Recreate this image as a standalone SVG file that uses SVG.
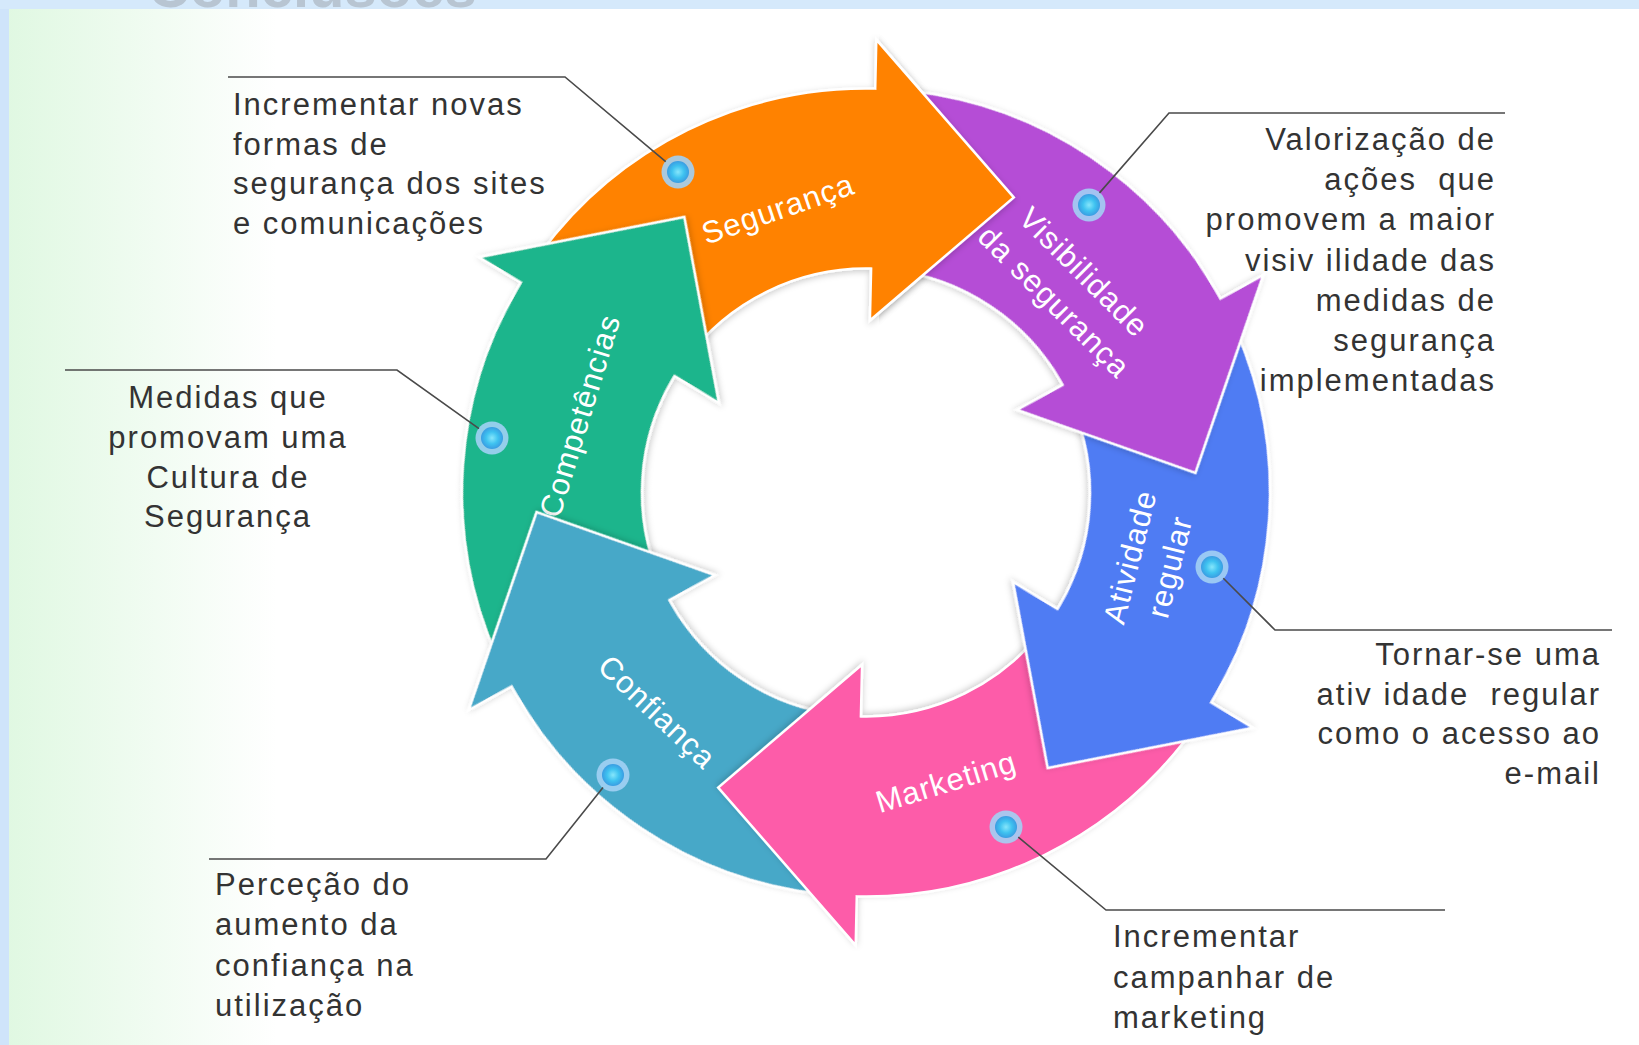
<svg xmlns="http://www.w3.org/2000/svg" width="1639" height="1045" viewBox="0 0 1639 1045">
<defs>
  <linearGradient id="leftFade" x1="0" y1="0" x2="1" y2="0">
    <stop offset="0" stop-color="#e0f8e2"/>
    <stop offset="1" stop-color="#ffffff"/>
  </linearGradient>
  <radialGradient id="dotCore" cx="0.5" cy="0.5" r="0.5">
    <stop offset="0" stop-color="#86e6fb"/>
    <stop offset="0.55" stop-color="#3ec2f0"/>
    <stop offset="1" stop-color="#3a9de2"/>
  </radialGradient>
  <filter id="shadow" x="-15%" y="-15%" width="130%" height="130%">
    <feDropShadow dx="0" dy="2" stdDeviation="3" flood-color="#000000" flood-opacity="0.2"/>
  </filter>
  <path id="arrowShape" d="M540.4,253.3 A404,404 0 0,1 875.2,88.6 L876.3,39.6 L1013.8,197.4 L869.9,320.5 L871.1,268.6 A224,224 0 0,0 685.5,359.9 Z"/>
  <clipPath id="clipFront"><rect x="879" y="0" width="300" height="420"/></clipPath>
  <clipPath id="clipBand"><rect x="0" y="0" width="1639" height="9"/></clipPath>
</defs>
<style>
  .arrow { stroke:#ffffff; stroke-width:2.5; stroke-linejoin:miter; filter:url(#shadow); }
  .lbl { font-family:"Liberation Sans", Arial, sans-serif; font-size:31px; fill:#ffffff; text-anchor:middle; dominant-baseline:central; letter-spacing:1px; }
  .callout { font-family:"Liberation Sans", Arial, sans-serif; font-size:31px; fill:#333333; letter-spacing:2px; }
  .end { text-anchor:end; }
  .mid { text-anchor:middle; }
  .leader { fill:none; stroke:#4a4a4a; stroke-width:1.6; }
  .dot-ring { fill:#a2d0f4; opacity:0.9; }
  .dot-core { fill:url(#dotCore); }
</style>

<!-- background -->
<g id="background">
  <rect x="0" y="0" width="1639" height="1045" fill="#ffffff"/>
  <rect x="7" y="9" width="270" height="1036" fill="url(#leftFade)"/>
  <rect x="0" y="0" width="9" height="1045" fill="#cfe4fa"/>
  <rect x="0" y="0" width="1639" height="9" fill="#d5e9fb"/>
  <text x="148" y="7" clip-path="url(#clipBand)" font-family="Liberation Sans, Arial, sans-serif" font-size="58" font-weight="bold" fill="#b8c5d2">Conclusões</text>
</g>

<!-- Segurança (orange) -->
<g id="node-seguranca">
  <use href="#arrowShape" class="arrow" fill="#ff8204"/>
  <text class="lbl" transform="translate(778,209) rotate(-19)">Segurança</text>
  <circle class="dot-ring" cx="678" cy="172" r="16.5"/>
  <circle class="dot-core" cx="678" cy="172" r="11"/>
</g>

<!-- Competências (green) -->
<g id="node-competencias">
  <use href="#arrowShape" class="arrow" fill="#1db58c" transform="rotate(300 866 492.5)"/>
  <text class="lbl" transform="translate(580,416) rotate(-73)">Competências</text>
  <circle class="dot-ring" cx="492" cy="438" r="16.5"/>
  <circle class="dot-core" cx="492" cy="438" r="11"/>
</g>

<!-- Confiança (teal) -->
<g id="node-confianca">
  <use href="#arrowShape" class="arrow" fill="#46a8c8" transform="rotate(240 866 492.5)"/>
  <text class="lbl" transform="translate(657,712) rotate(43.5)">Confiança</text>
  <circle class="dot-ring" cx="613" cy="775" r="16.5"/>
  <circle class="dot-core" cx="613" cy="775" r="11"/>
</g>

<!-- Marketing (pink) -->
<g id="node-marketing">
  <use href="#arrowShape" class="arrow" fill="#fd5ba9" transform="rotate(180 866 492.5)"/>
  <text class="lbl" transform="translate(946,782) rotate(-17)">Marketing</text>
  <circle class="dot-ring" cx="1006" cy="827" r="16.5"/>
  <circle class="dot-core" cx="1006" cy="827" r="11"/>
</g>

<!-- Atividade regular (blue) -->
<g id="node-atividade">
  <use href="#arrowShape" class="arrow" fill="#4f7cf3" transform="rotate(120 866 492.5)"/>
  <g transform="translate(1150,562) rotate(-76)">
    <text class="lbl" y="-20.5">Atividade</text>
    <text class="lbl" y="20.5">regular</text>
  </g>
  <circle class="dot-ring" cx="1212" cy="567" r="16.5"/>
  <circle class="dot-core" cx="1212" cy="567" r="11"/>
</g>

<!-- Visibilidade da segurança (purple) -->
<g id="node-visibilidade">
  <use href="#arrowShape" class="arrow" fill="#b54ed6" transform="rotate(60 866 492.5)"/>
  <g transform="translate(1069,287) rotate(45)">
    <text class="lbl" y="-21">Visibilidade</text>
    <text class="lbl" y="21">da segurança</text>
  </g>
  <circle class="dot-ring" cx="1089" cy="205" r="16.5"/>
  <circle class="dot-core" cx="1089" cy="205" r="11"/>
</g>

<!-- front part of the Segurança arrowhead, lying over the purple tail -->
<g id="node-seguranca-head" clip-path="url(#clipFront)">
  <use href="#arrowShape" class="arrow" fill="#ff8204"/>
</g>

<!-- leader lines -->
<g id="connectors">
  <path class="leader" d="M228,77 H565 L665.7,161.7"/>
  <path class="leader" d="M65,370 H397 L479,428.7"/>
  <path class="leader" d="M1505,113 H1169 L1099.5,192.9"/>
  <path class="leader" d="M1612,630 H1275 L1223.3,578.3"/>
  <path class="leader" d="M1445,910 H1106 L1018.3,837.2"/>
  <path class="leader" d="M209,859 H546 L603,787.5"/>
</g>

<!-- callout texts -->
<g id="callout-seguranca">
  <text class="callout" x="233" y="115">Incrementar novas</text>
  <text class="callout" x="233" y="154.5">formas de</text>
  <text class="callout" x="233" y="194">segurança dos sites</text>
  <text class="callout" x="233" y="233.5">e comunicações</text>
</g>
<g id="callout-competencias">
  <text class="callout mid" x="228" y="408">Medidas que</text>
  <text class="callout mid" x="228" y="447.5">promovam uma</text>
  <text class="callout mid" x="228" y="487.5">Cultura de</text>
  <text class="callout mid" x="228" y="527">Segurança</text>
</g>
<g id="callout-visibilidade">
  <text class="callout end" x="1496" y="150">Valorização de</text>
  <text class="callout end" x="1496" y="190">ações&#160; que</text>
  <text class="callout end" x="1496" y="230">promovem a maior</text>
  <text class="callout end" x="1496" y="270.5">visiv ilidade das</text>
  <text class="callout end" x="1496" y="311">medidas de</text>
  <text class="callout end" x="1496" y="351">segurança</text>
  <text class="callout end" x="1496" y="391">implementadas</text>
</g>
<g id="callout-atividade">
  <text class="callout end" x="1601" y="665">Tornar-se uma</text>
  <text class="callout end" x="1601" y="705">ativ idade&#160; regular</text>
  <text class="callout end" x="1601" y="744">como o acesso ao</text>
  <text class="callout end" x="1601" y="784">e-mail</text>
</g>
<g id="callout-confianca">
  <text class="callout" x="215" y="895">Perceção do</text>
  <text class="callout" x="215" y="935">aumento da</text>
  <text class="callout" x="215" y="976">confiança na</text>
  <text class="callout" x="215" y="1016">utilização</text>
</g>
<g id="callout-marketing">
  <text class="callout" x="1113" y="947">Incrementar</text>
  <text class="callout" x="1113" y="988">campanhar de</text>
  <text class="callout" x="1113" y="1028">marketing</text>
</g>
</svg>
